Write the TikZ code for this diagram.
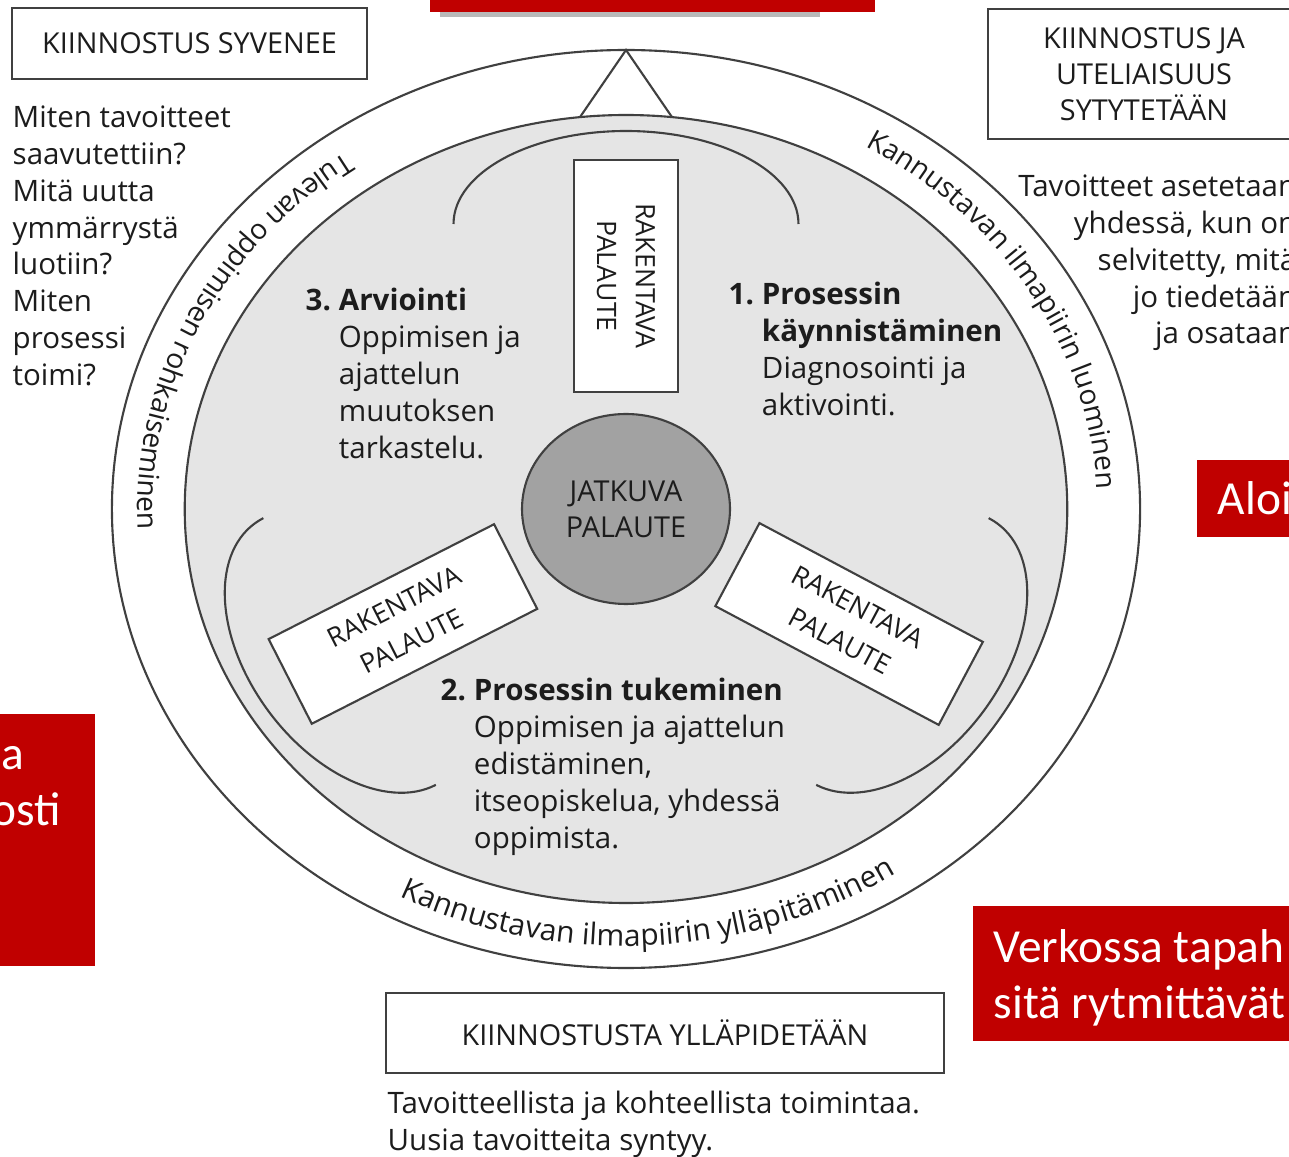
\documentclass[tikz,border=0pt]{standalone}
\usepackage{fontspec}
\setmainfont{Open Sans}
\newfontfamily\redfont{Carlito}
\usetikzlibrary{decorations.text, shapes.geometric}

\definecolor{boxred}{HTML}{C00000}
\definecolor{linegray}{HTML}{404040}
\definecolor{discgray}{HTML}{E5E5E5}
\definecolor{hubgray}{HTML}{A2A2A2}
\definecolor{inkgray}{HTML}{1C1C1C}

\newcommand{\txtfont}{\fontsize{8.4}{10.5}\selectfont}
\newcommand{\capfont}{\fontsize{8.2}{10.2}\selectfont}
\newcommand{\palfont}{\fontsize{7.6}{11}\selectfont}
\newcommand{\bandfont}{\fontsize{8}{9}\selectfont}
\newcommand{\bandfontb}{\fontsize{8.5}{9}\selectfont}
\newcommand{\redtxt}{\redfont\fontsize{13.5}{16}\selectfont}

\tikzset{
  stagebox/.style={draw=linegray, line width=0.6pt, fill=white, align=center, font=\capfont, text=inkgray, inner sep=0pt},
  palbox/.style={draw=linegray, line width=0.6pt, fill=white, align=center, font=\palfont, text=inkgray, inner sep=0pt},
  bodytext/.style={font=\txtfont, text=inkgray, inner sep=0pt},
  redtext/.style={font=\redtxt, text=white, inner sep=0pt},
  ring/.style={draw=linegray, line width=0.6pt},
}

\begin{document}
\begin{tikzpicture}[x=0.1mm, y=0.1mm]

	\useasboundingbox (0,0) rectangle (1289,1156);
	\clip (0,0) rectangle (1289,1156);
	\coordinate (C) at (626,647);

	% Red banners
	\fill[gray!55] (440,1139) rectangle (820,1150);
	\fill[boxred] (430,1144) rectangle (875,1170);
	\fill[boxred] (-10,190) rectangle (95,442);
	\node[redtext, anchor=base east] (lefta) at (25,386) {a};
	\node[redtext, anchor=base east] (leftb) at (62,330) {osti};
	\fill[boxred] (1197,619) rectangle (1300,696);
	\node[redtext, anchor=base west] (aloi) at (1217,641) {Aloi};
	\fill[boxred] (973,115) rectangle (1300,250);
	\node[redtext, anchor=base west] (verka) at (993,194) {Verkossa tapah};
	\node[redtext, anchor=base west] (verkb) at (993,138) {sitä rytmittävät};

	% Rings and inner disc
	\begin{scope}[shift={(C)}, xscale=1.12]
		\draw[ring, fill=white] (0,0) circle[radius=459];
		\draw[ring, fill=discgray] (0,0) circle[radius=394];
		\draw[ring] (-41,392) -- (0,459) -- (41,392);
		% arcs round the three phases
		\foreach \a in {0,120,240}{
			\begin{scope}[rotate=\a]
				\draw[ring] (-154,285) arc[start angle=180, end angle=0, x radius=154, y radius=93];
			\end{scope}
		}
		% feedback boxes
		\node[palbox, rotate=-90, minimum width=23.2mm, minimum height=10.4mm] (paltop) at (90:233) {RAKENTAVA\\PALAUTE};
		\node[palbox, rotate=27, minimum width=25.3mm, minimum height=9.5mm] (palleft) at (210:230) {RAKENTAVA\\PALAUTE};
		\node[palbox, rotate=-28, minimum width=25.3mm, minimum height=9.4mm] (palright) at (330:230) {RAKENTAVA\\PALAUTE};
	\end{scope}

	% Centre
	\node[ellipse, draw=linegray, line width=0.6pt, fill=hubgray, font=\capfont, text=inkgray, align=center,
		minimum width=20.8mm, minimum height=19mm, inner sep=0pt] (hub) at (C) {JATKUVA\\PALAUTE};

	% Texts along the band
	\begin{scope}[shift={(C)}]
		\path[decorate, decoration={text along path, text align=center,
			text={|\bandfont\color{inkgray}|Tulevan oppimisen rohkaiseminen}}]
			({1.12*436*cos(109.6)},{436*sin(109.6)}) arc[start angle=109.6, end angle=199.6, x radius=488.3, y radius=436];
		\path[decorate, decoration={text along path, text align=center,
			text={|\bandfont\color{inkgray}|Kannustavan ilmapiirin luominen}}]
			({1.12*421*cos(75.3)},{421*sin(75.3)}) arc[start angle=75.3, end angle=-14.7, x radius=471.5, y radius=421];
		\path[decorate, decoration={text along path, text align=center,
			text={|\bandfontb\color{inkgray}|Kannustavan ilmapiirin ylläpitäminen}}]
			({1.12*437*cos(228)},{437*sin(228)}) arc[start angle=228, end angle=318, x radius=489.4, y radius=437];
	\end{scope}

	% Phase texts
	\node[bodytext, anchor=north west] (arvio) at (305,872) {%
		\begin{tabular}{@{}l@{\hspace{0.8mm}}l@{}}
			\textbf{3.} & \textbf{Arviointi}\\
			& Oppimisen ja\\
			& ajattelun\\
			& muutoksen\\
			& tarkastelu.
		\end{tabular}};
	\node[bodytext, anchor=north west] (kaynn) at (728,878) {%
		\begin{tabular}{@{}l@{\hspace{0.8mm}}l@{}}
			\textbf{1.} & \textbf{Prosessin}\\
			& \textbf{käynnistäminen}\\
			& Diagnosointi ja\\
			& aktivointi.
		\end{tabular}};
	\node[bodytext, anchor=north west] (tuki) at (440,482) {%
		\begin{tabular}{@{}l@{\hspace{0.8mm}}l@{}}
			\textbf{2.} & \textbf{Prosessin tukeminen}\\
			& Oppimisen ja ajattelun\\
			& edistäminen,\\
			& itseopiskelua, yhdessä\\
			& oppimista.
		\end{tabular}};

	% Stage boxes
	\node[stagebox, minimum width=35.5mm, minimum height=7.1mm] (syvenee) at (189.5,1112.5) {KIINNOSTUS SYVENEE};
	\node[stagebox, minimum width=31.2mm, minimum height=13mm] (sytyt) at (1144,1082) {KIINNOSTUS JA\\UTELIAISUUS\\SYTYTETÄÄN};
	\node[stagebox, minimum width=55.8mm, minimum height=8mm] (yllapito) at (665,123) {KIINNOSTUSTA YLLÄPIDETÄÄN};

	% Side questions
	\node[bodytext, align=left, anchor=north west] (leftq) at (12,1051)
		{Miten tavoitteet\\saavutettiin?\\Mitä uutta\\ymmärrystä\\luotiin?\\Miten\\prosessi\\toimi?};
	\node[bodytext, align=right, anchor=north east] (rightq) at (1297,982)
		{Tavoitteet asetetaan\\yhdessä, kun on\\selvitetty, mitä\\jo tiedetään\\ja osataan};
	\node[bodytext, align=left, anchor=north west] (bottomq) at (387,66)
		{Tavoitteellista ja kohteellista toimintaa.\\Uusia tavoitteita syntyy.};

\end{tikzpicture}
\end{document}
